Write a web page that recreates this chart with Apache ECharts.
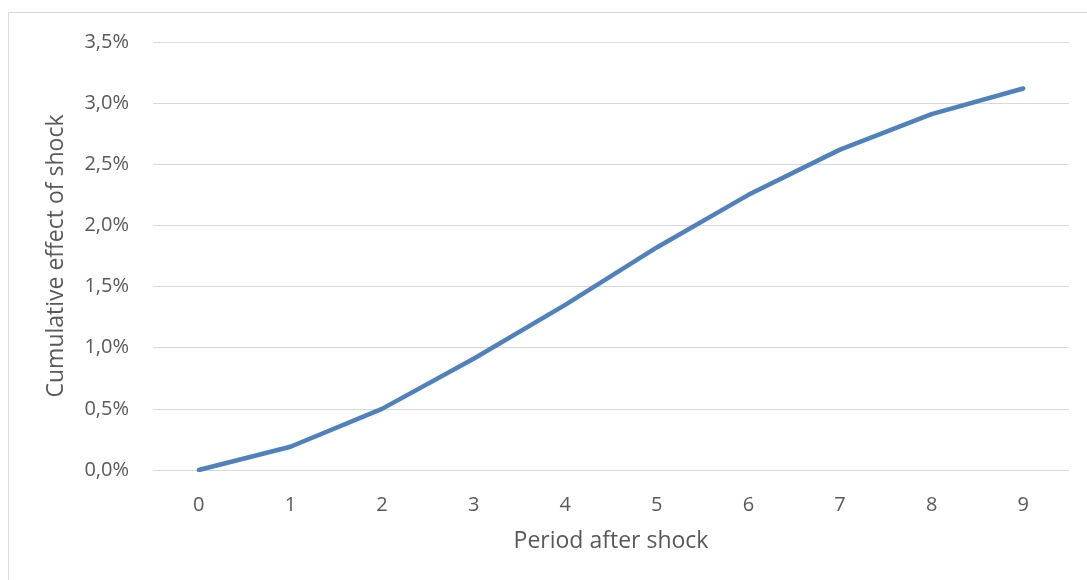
<!DOCTYPE html>
<html>
<head>
<meta charset="utf-8">
<title>Cumulative effect of shock</title>
<script src="https://cdn.jsdelivr.net/npm/echarts@6/dist/echarts.min.js"></script>
<style>
  html, body { margin: 0; padding: 0; background: #ffffff; }
  #chart { width: 1087px; height: 580px; }
</style>
</head>
<body>
<div id="chart"></div>
<script>
// Periods after the shock (x categories)
const periods = ['0', '1', '2', '3', '4', '5', '6', '7', '8', '9'];
// Cumulative effect, in percent
const cumulativeEffect = [0.0, 0.19, 0.50, 0.91, 1.35, 1.82, 2.25, 2.62, 2.91, 3.12];
// Y axis range and step, in percent
const yMin = 0;
const yMax = 3.5;
const yStep = 0.5;

const textColor = '#595959';
const fontFamily = '"Open Sans", "Noto Sans", sans-serif';

const chart = echarts.init(document.getElementById('chart'), null, { renderer: 'canvas' });

chart.setOption({
  backgroundColor: '#ffffff',
  animation: false,
  graphic: [{
    type: 'rect',
    shape: { x: 8.5, y: 12.5, width: 1200, height: 700 },
    style: { fill: 'none', stroke: '#d9d9d9', lineWidth: 1 },
    silent: true,
    z: -10
  }],
  grid: {
    left: 153,
    right: 18,
    top: 42,
    bottom: 110,
    containLabel: false
  },
  xAxis: {
    type: 'category',
    data: periods,
    boundaryGap: true,
    name: 'Period after shock',
    nameLocation: 'middle',
    nameGap: 60,
    nameTextStyle: { color: textColor, fontSize: 23, fontFamily: fontFamily },
    axisLine: { show: false },
    axisTick: { show: false },
    axisLabel: { color: textColor, fontSize: 20, fontFamily: fontFamily, margin: 25 },
    splitLine: { show: false }
  },
  yAxis: {
    type: 'value',
    min: yMin,
    max: yMax,
    interval: yStep,
    name: 'Cumulative effect of shock',
    nameLocation: 'middle',
    nameGap: 85,
    nameRotate: 90,
    nameTextStyle: { color: textColor, fontSize: 23, fontFamily: fontFamily },
    axisLine: { show: false },
    axisTick: { show: false },
    axisLabel: {
      color: textColor,
      fontSize: 20,
      fontFamily: fontFamily,
      margin: 24,
      formatter: function (v) { return v.toFixed(1).replace('.', ',') + '%'; }
    },
    splitLine: { show: true, lineStyle: { color: '#d9d9d9', width: 1 } }
  },
  series: [{
    type: 'line',
    data: cumulativeEffect,
    symbol: 'none',
    smooth: false,
    lineStyle: { color: '#4f81bd', width: 4.5, cap: 'round', join: 'round' }
  }]
});
</script>
</body>
</html>
